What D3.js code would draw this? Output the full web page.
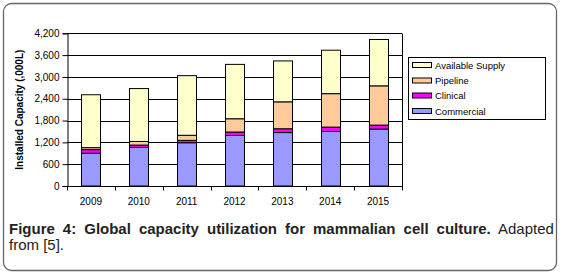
<!DOCTYPE html>
<html>
<head>
<meta charset="utf-8">
<script src="https://cdn.jsdelivr.net/npm/d3@7"></script>
<style>
  html, body { margin: 0; padding: 0; background: #fff; }
  svg { display: block; font-family: "Liberation Sans", Arial, sans-serif; }
</style>
</head>
<body>
<div id="chart"></div>
<script>
// --- data (thousand litres) -------------------------------------------
var years = ["2009", "2010", "2011", "2012", "2013", "2014", "2015"];
var seriesNames = ["Commercial", "Clinical", "Pipeline", "Available Supply"];
var commercial = [900, 1060, 1190, 1390, 1470, 1500, 1565];
var clinical   = [100, 65, 65, 95, 105, 120, 110];
var pipeline   = [55, 100, 140, 365, 740, 920, 1080];
var available  = [1455, 1455, 1640, 1495, 1125, 1195, 1275];
var yTicks = [0, 600, 1200, 1800, 2400, 3000, 3600, 4200];

(function () {
  "use strict";
  var W = 562, H = 274;
  var colors = {
    "Commercial": "#9999ff",
    "Clinical": "#ff00ff",
    "Pipeline": "#ffcc99",
    "Available Supply": "#ffffcc"
  };

  var svg = d3.select("#chart").append("svg").attr("width", W).attr("height", H);

  // figure frame
  svg.append("rect")
    .attr("x", 3.5).attr("y", 3.5).attr("width", 553).attr("height", 267)
    .attr("rx", 8).attr("fill", "#fff").attr("stroke", "#666").attr("stroke-width", 1.3);

  // --- scales ---------------------------------------------------------
  var pl = 67, pr = 402, pt = 33.3, pb = 186;
  var x = d3.scaleBand().domain(years).range([pl, pr])
    .paddingInner(0.6).paddingOuter(0.3);
  var y = d3.scaleLinear().domain([0, 4200]).range([pb, pt]);

  var rows = years.map(function (yr, i) {
    return { year: yr, "Commercial": commercial[i], "Clinical": clinical[i],
             "Pipeline": pipeline[i], "Available Supply": available[i] };
  });
  var stacked = d3.stack().keys(seriesNames)(rows);

  // gridlines
  svg.append("g").selectAll("line").data(yTicks.slice(1)).enter().append("line")
    .attr("x1", pl).attr("x2", pr)
    .attr("y1", function (d) { return Math.round(y(d)) + 0.5; })
    .attr("y2", function (d) { return Math.round(y(d)) + 0.5; })
    .attr("stroke", "#000").attr("stroke-width", 1);

  // right border of plot area
  svg.append("line")
    .attr("x1", pr + 0.5).attr("x2", pr + 0.5)
    .attr("y1", Math.round(pt) + 0.5).attr("y2", pb)
    .attr("stroke", "#000");

  // --- bars -------------------------------------------------------------
  svg.append("g").selectAll("g").data(stacked).enter().append("g")
    .attr("fill", function (s) { return colors[s.key]; })
    .selectAll("rect").data(function (s) { return s; }).enter().append("rect")
    .attr("x", function (d) { return Math.round(x(d.data.year)) + 0.5; })
    .attr("width", Math.round(x.bandwidth()))
    .attr("y", function (d) { return y(d[1]); })
    .attr("height", function (d) { return y(d[0]) - y(d[1]); })
    .attr("stroke", "#000").attr("stroke-width", 1);

  // --- axes -------------------------------------------------------------
  var yAxis = svg.append("g").attr("transform", "translate(" + (pl + 0.5) + ",0)")
    .call(d3.axisLeft(y).tickValues(yTicks).tickSize(5).tickFormat(d3.format(",")));
  yAxis.selectAll("path, line").attr("stroke", "#000");
  yAxis.selectAll("text").attr("fill", "#000")
    .style("font-size", "10px").style("font-family", "'Liberation Sans', Arial, sans-serif");

  // x axis: category boundary ticks
  var step = x.step();
  var bounds = d3.range(years.length + 1).map(function (i) { return pl + i * step; });
  var xAxis = svg.append("g");
  xAxis.append("line").attr("x1", pl).attr("x2", pr + 1)
    .attr("y1", pb + 0.5).attr("y2", pb + 0.5).attr("stroke", "#000");
  xAxis.selectAll(".tk").data(bounds).enter().append("line")
    .attr("x1", function (d) { return Math.round(d) + 0.5; })
    .attr("x2", function (d) { return Math.round(d) + 0.5; })
    .attr("y1", pb).attr("y2", pb + 4.5).attr("stroke", "#000");
  xAxis.selectAll("text").data(years).enter().append("text")
    .attr("x", function (d) { return x(d) + x.bandwidth() / 2; })
    .attr("y", 205).attr("text-anchor", "middle")
    .style("font-size", "10px").attr("fill", "#000")
    .text(function (d) { return d; });

  // y title
  svg.append("text")
    .attr("transform", "translate(23," + ((pt + pb) / 2) + ") rotate(-90)")
    .attr("text-anchor", "middle")
    .style("font-size", "10px").style("font-weight", "bold").attr("fill", "#000")
    .text("Installed Capacity (,000L)");

  // --- legend -----------------------------------------------------------
  var legend = svg.append("g");
  legend.append("rect").attr("x", 408.5).attr("y", 57.5).attr("width", 137).attr("height", 62)
    .attr("fill", "#fff").attr("stroke", "#000");
  var legendOrder = seriesNames.slice().reverse();
  var li = legend.selectAll(".li").data(legendOrder).enter().append("g")
    .attr("transform", function (d, i) { return "translate(0," + [65, 80.5, 95.5, 111][i] + ")"; });
  li.append("rect").attr("x", 412.5).attr("y", -2.5).attr("width", 19).attr("height", 5)
    .attr("fill", function (d) { return colors[d]; }).attr("stroke", "#000");
  li.append("text").attr("x", 435).attr("y", 3.5)
    .style("font-size", "9.5px").attr("fill", "#000")
    .text(function (d) { return d; });

  // --- caption ----------------------------------------------------------
  var cap1 = svg.append("text").attr("x", 9).attr("y", 234)
    .style("font-size", "15px").attr("fill", "#222");
  cap1.append("tspan").style("font-weight", "bold")
    .text("Figure 4: Global capacity utilization for mammalian cell culture.");
  cap1.append("tspan").text(" Adapted");
  // justify the first line to the text block width
  var target = 541;
  var len = cap1.node().getComputedTextLength();
  cap1.attr("word-spacing", ((target - len) / 8) + "px");

  svg.append("text").attr("x", 9).attr("y", 250)
    .style("font-size", "15px").attr("fill", "#222")
    .text("from [5].");
})();
</script>
</body>
</html>
